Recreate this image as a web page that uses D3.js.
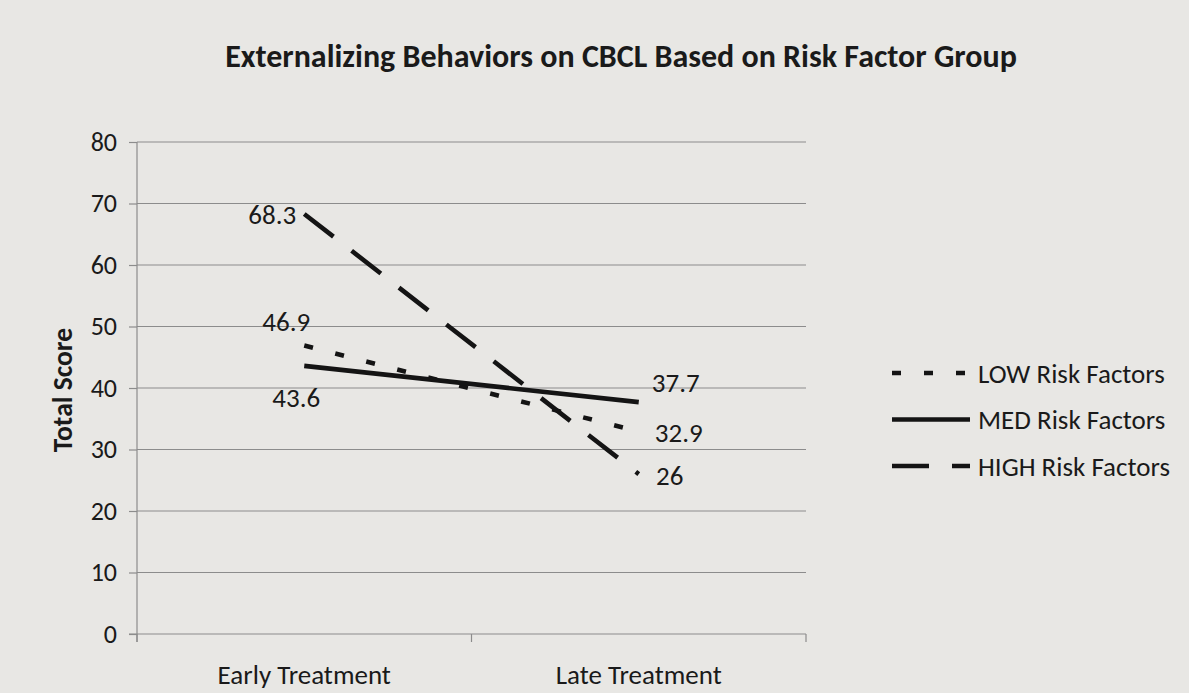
<!DOCTYPE html>
<html>
<head>
<meta charset="utf-8">
<script src="https://cdn.jsdelivr.net/npm/d3@7"></script>
<style>
  html, body { margin: 0; padding: 0; background: #e8e7e4; }
  svg { display: block; }
  text { font-family: Carlito, Calibri, Lato, "Open Sans", sans-serif; fill: #1a1a1a; }
</style>
</head>
<body>
<svg id="chart" width="1189" height="693"></svg>
<script>
// ---- data ----
const categories = ["Early Treatment", "Late Treatment"];
const seriesNames = ["LOW Risk Factors", "MED Risk Factors", "HIGH Risk Factors"];
const lowValues = [46.9, 32.9];
const medValues = [43.6, 37.7];
const highValues = [68.3, 26];
const yTicks = [0, 10, 20, 30, 40, 50, 60, 70, 80];
const titleText = "Externalizing Behaviors on CBCL Based on Risk Factor Group";
const yAxisTitle = "Total Score";

// ---- styles / layout ----
const series = [
  { name: seriesNames[0], values: lowValues, dash: "9,23" },
  { name: seriesNames[1], values: medValues, dash: null },
  { name: seriesNames[2], values: highValues, dash: "37,23" }
];
// label placement per series per point: [dx, dy] of label centre from the point
const labelPlacement = [
  [[-18, -24], [40, 1]],
  [[-8, 32], [37, -20]],
  [[-32, 1], [31, 1]]
];
const FONT = 27;
const TICK_FONT = 26;

const svg = d3.select("#chart");
const plot = { left: 137, right: 806, top: 142, bottom: 634 };

const x = d3.scaleBand().domain(categories).range([plot.left, plot.right]).padding(0);
const y = d3.scaleLinear().domain([0, 80]).range([plot.bottom, plot.top]);
const cx = c => x(c) + x.bandwidth() / 2;

// title
svg.append("text")
  .attr("x", 621).attr("y", 67)
  .attr("text-anchor", "middle")
  .attr("font-size", 32).attr("font-weight", "bold")
  .text(titleText);

// gridlines
svg.append("g").selectAll("line").data(yTicks.filter(d => d > 0)).join("line")
  .attr("x1", plot.left).attr("x2", plot.right)
  .attr("y1", d => y(d)).attr("y2", d => y(d))
  .attr("stroke", "#8c8c8c").attr("stroke-width", 1.2);

// y axis
const yAxis = d3.axisLeft(y).tickValues(yTicks).tickSize(8).tickPadding(12).tickFormat(d3.format("d"));
const gy = svg.append("g").attr("transform", `translate(${plot.left},0)`).call(yAxis);
gy.attr("font-family", null).attr("font-size", null);
gy.select(".domain").attr("stroke", "#8c8c8c").attr("stroke-width", 1.2).attr("d", `M0,${plot.top}V${plot.bottom + 8}`);
gy.selectAll(".tick line").attr("stroke", "#8c8c8c").attr("stroke-width", 1.2);
gy.selectAll(".tick text").attr("font-size", TICK_FONT).attr("fill", "#1a1a1a");

// x axis
const xAxis = d3.axisBottom(x).tickSize(0).tickPadding(0);
const gx = svg.append("g").attr("transform", `translate(0,${plot.bottom})`).call(xAxis);
gx.attr("font-family", null).attr("font-size", null);
gx.select(".domain").attr("stroke", "#8c8c8c").attr("stroke-width", 1.2)
  .attr("d", `M${plot.left - 8},0H${plot.right}`);
gx.selectAll(".tick text").attr("font-size", FONT).attr("fill", "#1a1a1a")
  .attr("dy", null).attr("y", 50);
// category boundary ticks
const bounds = [plot.left, plot.left + x.bandwidth(), plot.right];
svg.append("g").selectAll("line").data(bounds).join("line")
  .attr("x1", d => d).attr("x2", d => d)
  .attr("y1", plot.bottom).attr("y2", plot.bottom + 8)
  .attr("stroke", "#8c8c8c").attr("stroke-width", 1.2);

// y title
svg.append("text")
  .attr("transform", "translate(72,390) rotate(-90)")
  .attr("text-anchor", "middle")
  .attr("font-size", 27.5).attr("font-weight", "bold")
  .text(yAxisTitle);

// lines
const line = d3.line().x((d, i) => cx(categories[i])).y(d => y(d));
svg.append("g").selectAll("path").data(series).join("path")
  .attr("d", d => line(d.values))
  .attr("fill", "none").attr("stroke", "#141414").attr("stroke-width", 4.6)
  .attr("stroke-dasharray", d => d.dash);

// data labels
series.forEach((s, si) => {
  s.values.forEach((v, i) => {
    const [dx, dy] = labelPlacement[si][i];
    svg.append("text")
      .attr("x", cx(categories[i]) + dx).attr("y", y(v) + dy)
      .attr("text-anchor", "middle").attr("dominant-baseline", "central")
      .attr("font-size", FONT)
      .text(v);
  });
});

// legend
const legend = svg.append("g");
const legendX0 = 892, legendX1 = 970, legendY0 = 373, legendStep = 46.5;
series.forEach((s, i) => {
  const ly = legendY0 + i * legendStep;
  legend.append("line")
    .attr("x1", legendX0).attr("x2", legendX1).attr("y1", ly).attr("y2", ly)
    .attr("stroke", "#141414").attr("stroke-width", 4.6)
    .attr("stroke-dasharray", s.dash);
  legend.append("text")
    .attr("x", legendX1 + 8).attr("y", ly)
    .attr("dominant-baseline", "central").attr("font-size", FONT)
    .text(s.name);
});
</script>
</body>
</html>
